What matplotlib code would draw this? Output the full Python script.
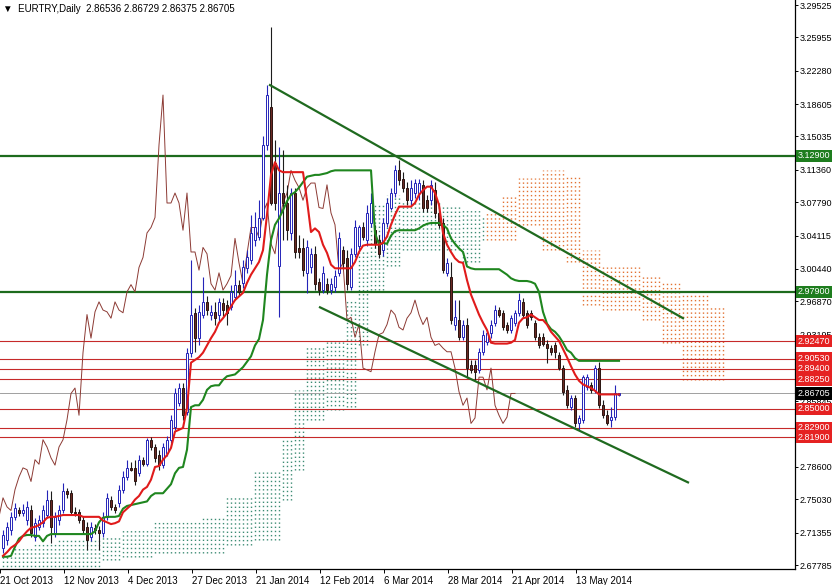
import numpy as np
import matplotlib.pyplot as plt
from matplotlib.transforms import blended_transform_factory

plt.rcParams['font.family'] = ['Liberation Sans', 'DejaVu Sans']
plt.rcParams['font.size'] = 7

# --- daily EURTRY bars (bar 0 = 21 Oct 2013) ---
opens = [
    2.697, 2.705, 2.716, 2.731, 2.738, 2.735, 2.727, 2.738, 2.709, 2.720,
    2.724, 2.733, 2.750, 2.713, 2.727, 2.738, 2.759, 2.757, 2.736, 2.736,
    2.727, 2.720, 2.709, 2.719, 2.716, 2.713, 2.731, 2.750, 2.742, 2.746,
    2.761, 2.775, 2.785, 2.785, 2.779, 2.794, 2.789, 2.816, 2.808, 2.799,
    2.788, 2.801, 2.816, 2.830, 2.857, 2.873, 2.847, 2.912, 2.956, 2.928,
    2.954, 2.968, 2.954, 2.957, 2.954, 2.967, 2.965, 2.962, 2.973, 2.987,
    2.989, 3.005, 3.014, 3.036, 3.039, 3.061, 3.141, 3.183, 3.121, 3.008,
    3.088, 3.077, 3.044, 3.088, 3.027, 3.027, 3.000, 3.006, 3.021, 2.990,
    2.981, 2.988, 2.981, 2.984, 3.000, 3.025, 3.016, 2.984, 3.021, 3.030,
    3.050, 3.036, 3.055, 3.047, 3.036, 3.025, 3.055, 3.072, 3.088, 3.113,
    3.104, 3.094, 3.080, 3.088, 3.088, 3.097, 3.080, 3.080, 3.091, 3.066,
    3.055, 3.000, 2.995, 2.943, 2.948, 2.929, 2.943, 2.898, 2.898, 2.893,
    2.913, 2.924, 2.934, 2.945, 2.959, 2.956, 2.943, 2.937, 2.945, 2.956,
    2.968, 2.956, 2.956, 2.945, 2.929, 2.929, 2.922, 2.917, 2.920, 2.909,
    2.895, 2.871, 2.852, 2.862, 2.834, 2.838, 2.874, 2.876, 2.871, 2.895,
    2.854, 2.843, 2.838, 2.841, 2.86536]
highs = [
    2.716, 2.725, 2.736, 2.746, 2.742, 2.745, 2.748, 2.744, 2.730, 2.733,
    2.744, 2.761, 2.759, 2.736, 2.744, 2.768, 2.763, 2.761, 2.742, 2.740,
    2.732, 2.725, 2.725, 2.723, 2.721, 2.736, 2.757, 2.754, 2.745, 2.766,
    2.782, 2.794, 2.792, 2.794, 2.799, 2.797, 2.818, 2.819, 2.811, 2.805,
    2.812, 2.820, 2.843, 2.873, 2.879, 2.879, 2.917, 3.014, 2.961, 2.965,
    2.995, 2.974, 2.965, 2.968, 2.972, 2.972, 2.970, 2.987, 3.003, 2.992,
    3.014, 3.025, 3.064, 3.067, 3.080, 3.151, 3.207, 3.271, 3.146, 3.139,
    3.135, 3.097, 3.093, 3.093, 3.042, 3.038, 3.036, 3.027, 3.030, 2.994,
    3.008, 2.994, 2.994, 3.003, 3.045, 3.030, 3.025, 3.027, 3.058, 3.053,
    3.056, 3.075, 3.088, 3.053, 3.042, 3.060, 3.082, 3.093, 3.119, 3.124,
    3.111, 3.100, 3.102, 3.104, 3.104, 3.102, 3.086, 3.102, 3.100, 3.071,
    3.060, 3.016, 3.012, 2.970, 2.970, 2.948, 2.950, 2.904, 2.904, 2.917,
    2.937, 2.937, 2.948, 2.965, 2.962, 2.959, 2.946, 2.954, 2.959, 2.978,
    2.972, 2.959, 2.959, 2.948, 2.934, 2.934, 2.926, 2.920, 2.924, 2.913,
    2.898, 2.876, 2.865, 2.865, 2.843, 2.887, 2.889, 2.880, 2.898, 2.902,
    2.860, 2.849, 2.852, 2.876, 2.86729]
lows = [
    2.691, 2.700, 2.711, 2.727, 2.732, 2.732, 2.722, 2.709, 2.704, 2.716,
    2.720, 2.730, 2.702, 2.709, 2.722, 2.735, 2.752, 2.733, 2.732, 2.724,
    2.712, 2.694, 2.704, 2.712, 2.694, 2.709, 2.727, 2.738, 2.735, 2.742,
    2.757, 2.772, 2.781, 2.766, 2.776, 2.787, 2.787, 2.805, 2.791, 2.783,
    2.785, 2.798, 2.812, 2.827, 2.853, 2.838, 2.843, 2.907, 2.913, 2.920,
    2.950, 2.954, 2.948, 2.943, 2.946, 2.952, 2.943, 2.959, 2.970, 2.975,
    2.983, 3.000, 3.010, 3.030, 3.036, 3.058, 3.135, 3.075, 3.069, 2.951,
    3.036, 3.036, 3.036, 3.016, 3.016, 2.997, 2.978, 3.000, 2.981, 2.976,
    2.978, 2.977, 2.977, 2.979, 2.996, 3.005, 2.981, 2.981, 3.017, 3.025,
    3.036, 3.030, 3.050, 3.027, 3.016, 3.019, 3.050, 3.069, 3.084, 3.097,
    3.089, 3.075, 3.075, 3.082, 3.080, 3.067, 3.067, 3.075, 3.060, 3.049,
    3.000, 2.996, 2.944, 2.937, 2.926, 2.926, 2.884, 2.890, 2.882, 2.890,
    2.909, 2.920, 2.928, 2.941, 2.951, 2.937, 2.934, 2.934, 2.941, 2.952,
    2.950, 2.939, 2.948, 2.926, 2.917, 2.919, 2.901, 2.909, 2.906, 2.893,
    2.865, 2.851, 2.849, 2.830, 2.827, 2.834, 2.871, 2.867, 2.867, 2.851,
    2.840, 2.832, 2.830, 2.838, 2.86375]
closes = [
    2.711, 2.720, 2.731, 2.741, 2.735, 2.738, 2.742, 2.713, 2.724, 2.727,
    2.738, 2.750, 2.720, 2.731, 2.738, 2.759, 2.756, 2.736, 2.735, 2.727,
    2.716, 2.705, 2.720, 2.716, 2.713, 2.731, 2.752, 2.742, 2.738, 2.761,
    2.775, 2.785, 2.783, 2.770, 2.794, 2.789, 2.816, 2.808, 2.796, 2.788,
    2.808, 2.816, 2.838, 2.867, 2.873, 2.843, 2.912, 2.954, 2.928, 2.957,
    2.968, 2.959, 2.957, 2.950, 2.968, 2.959, 2.956, 2.979, 2.987, 2.979,
    3.006, 3.017, 3.044, 3.050, 3.061, 3.141, 3.196, 3.077, 3.077, 3.088,
    3.077, 3.047, 3.088, 3.023, 3.023, 3.003, 3.028, 3.021, 2.988, 2.981,
    3.000, 2.981, 2.988, 2.997, 3.038, 3.011, 2.988, 3.021, 3.050, 3.050,
    3.039, 3.066, 3.077, 3.032, 3.021, 3.055, 3.077, 3.088, 3.113, 3.102,
    3.094, 3.080, 3.094, 3.099, 3.099, 3.072, 3.071, 3.097, 3.066, 3.053,
    3.003, 3.011, 2.948, 2.951, 2.929, 2.943, 2.895, 2.893, 2.891, 2.913,
    2.932, 2.934, 2.943, 2.959, 2.954, 2.940, 2.937, 2.950, 2.956, 2.970,
    2.954, 2.943, 2.951, 2.929, 2.920, 2.922, 2.917, 2.913, 2.913, 2.895,
    2.869, 2.854, 2.862, 2.834, 2.840, 2.885, 2.885, 2.871, 2.895, 2.854,
    2.843, 2.834, 2.841, 2.867, 2.86705]

# --- Ichimoku lines ---
tenkan = [
    2.688, 2.692, 2.697, 2.700, 2.704, 2.710, 2.715, 2.719, 2.720, 2.722,
    2.725, 2.730, 2.731, 2.731, 2.732, 2.733, 2.733, 2.733, 2.733, 2.733,
    2.731, 2.731, 2.731, 2.731, 2.731, 2.727, 2.725, 2.723, 2.724, 2.726,
    2.736, 2.740, 2.744, 2.750, 2.754, 2.761, 2.764, 2.772, 2.786, 2.787,
    2.794, 2.799, 2.807, 2.825, 2.827, 2.829, 2.851, 2.901, 2.904, 2.907,
    2.912, 2.920, 2.928, 2.935, 2.945, 2.950, 2.956, 2.963, 2.970, 2.974,
    2.978, 2.989, 2.998, 3.005, 3.012, 3.025, 3.064, 3.108, 3.122, 3.113,
    3.111, 3.111, 3.111, 3.111, 3.111, 3.111, 3.080, 3.045, 3.049, 3.045,
    3.031, 3.022, 3.009, 3.005, 3.005, 3.005, 3.005, 3.005, 3.012, 3.023,
    3.030, 3.031, 3.031, 3.031, 3.031, 3.033, 3.040, 3.053, 3.064, 3.073,
    3.073, 3.073, 3.073, 3.077, 3.086, 3.091, 3.095, 3.095, 3.088, 3.075,
    3.044, 3.031, 3.023, 3.016, 3.012, 3.011, 2.992, 2.976, 2.965, 2.954,
    2.945, 2.937, 2.923, 2.922, 2.922, 2.922, 2.922, 2.923, 2.926, 2.945,
    2.950, 2.951, 2.954, 2.951, 2.948, 2.948, 2.943, 2.935, 2.930, 2.925,
    2.916, 2.907, 2.897, 2.888, 2.881, 2.877, 2.875, 2.873, 2.870, 2.866,
    2.866, 2.866, 2.866, 2.866, 2.866]
kijun = [
    2.687, 2.687, 2.688, 2.698, 2.707, 2.710, 2.711, 2.711, 2.710, 2.710,
    2.704, 2.710, 2.712, 2.712, 2.712, 2.712, 2.712, 2.712, 2.712, 2.712,
    2.712, 2.712, 2.712, 2.715, 2.725, 2.730, 2.731, 2.731, 2.731, 2.732,
    2.740, 2.743, 2.744, 2.745, 2.746, 2.747, 2.748, 2.754, 2.757, 2.757,
    2.757, 2.762, 2.767, 2.779, 2.785, 2.786, 2.805, 2.852, 2.854, 2.854,
    2.860, 2.871, 2.875, 2.876, 2.876, 2.882, 2.886, 2.887, 2.888, 2.892,
    2.896, 2.902, 2.908, 2.920, 2.927, 2.948, 2.998, 3.036, 3.053, 3.060,
    3.069, 3.079, 3.086, 3.089, 3.094, 3.100, 3.106, 3.107, 3.108, 3.108,
    3.109, 3.110, 3.112, 3.113, 3.113, 3.113, 3.113, 3.113, 3.113, 3.113,
    3.113, 3.113, 3.113, 3.044, 3.031, 3.033, 3.032, 3.041, 3.046, 3.047,
    3.047, 3.047, 3.047, 3.047, 3.049, 3.052, 3.054, 3.055, 3.055, 3.055,
    3.053, 3.049, 3.038, 3.032, 3.027, 3.023, 3.007, 3.005, 3.004, 3.004,
    3.004, 3.004, 3.004, 3.004, 3.004, 3.001, 2.998, 2.994, 2.992, 2.991,
    2.991, 2.991, 2.990, 2.988, 2.979, 2.957, 2.944, 2.938, 2.935, 2.930,
    2.923, 2.915, 2.912, 2.906, 2.903, 2.903, 2.903, 2.903, 2.903, 2.903,
    2.903, 2.903, 2.903, 2.903, 2.903]

# Senkou spans as displayed (already shifted 26 bars ahead), bars 0..180
span_a = ([2.689] * 3 + [2.697] * 5 + [2.702] * 6 + [2.705] * 11 + [2.709] * 5
          + [2.716] * 8 + [2.727] * 12 + [2.731] * 6 + [2.753] * 7 + [2.780] * 7
          + [2.816] * 3 + [2.871] * 3 + [2.920] * 5 + [2.926] * 5 + [2.970] * 3
          + [3.025] * 3 + [3.075] * 4 + [3.086] * 4 + [3.080] * 10 + [3.075] * 5
          + [3.069] * 5 + [3.064] * 1
          + [3.036] * 4 + [3.036] * 4 + [3.053] * 6 + [3.025] * 6 + [3.012] * 4
          + [2.965] * 5 + [2.959] * 10 + [2.948] * 5 + [2.923] * 5 + [2.882] * 7
          + [2.882] * 4)
span_b = ([2.667] * 3 + [2.667] * 5 + [2.667] * 6 + [2.667] * 11 + [2.683] * 5
          + [2.687] * 8 + [2.691] * 12 + [2.691] * 6 + [2.700] * 7 + [2.705] * 7
          + [2.750] * 3 + [2.783] * 3 + [2.838] * 5 + [2.849] * 5 + [2.852] * 3
          + [2.920] * 3 + [2.981] * 4 + [3.008] * 4 + [3.025] * 10 + [3.025] * 5
          + [3.012] * 5 + [3.036] * 1
          + [3.066] * 4 + [3.086] * 4 + [3.105] * 6 + [3.113] * 6 + [3.108] * 4
          + [3.025] * 5 + [3.006] * 10 + [2.997] * 5 + [2.989] * 5 + [2.981] * 7
          + [2.965] * 4)

green_levels = [3.12900, 2.97900]
red_levels = [2.92470, 2.90530, 2.89400, 2.88250, 2.85000, 2.82900, 2.81900]
last_price = 2.86705

# trend lines: (bar, price) end points
upper_trend = [(66.75, 3.207), (170.0, 2.950)]
lower_trend = [(79.25, 2.962), (171.25, 2.769)]

ytick_values = [3.29525, 3.25955, 3.22280, 3.18605, 3.15035, 3.11360, 3.07790,
                3.04115, 3.00440, 2.96870, 2.93195, 2.85845,
                2.78600, 2.75030, 2.71355, 2.67785]
date_labels = ['21 Oct 2013', '12 Nov 2013', '4 Dec 2013', '27 Dec 2013',
               '21 Jan 2014', '12 Feb 2014', '6 Mar 2014', '28 Mar 2014',
               '21 Apr 2014', '13 May 2014']

o = np.array(opens); h = np.array(highs); l = np.array(lows); c = np.array(closes)
bars = np.arange(len(c))
cloud_x = np.arange(len(span_a))
sa = np.array(span_a); sb = np.array(span_b)

fig = plt.figure(figsize=(8.34, 5.85), dpi=100)
ax = fig.add_axes([0, 16 / 585, 795 / 834, 569 / 585])

# cloud, drawn as dotted columns
bull = sa >= sb
ax.vlines(cloud_x[bull], sb[bull], sa[bull], colors='#3d8c74', linewidth=1.0,
          linestyles=(0, (1, 2)), zorder=1)
ax.vlines(cloud_x[~bull], sa[~bull], sb[~bull], colors='#e27232', linewidth=1.0,
          linestyles=(0, (1, 2)), zorder=1)

# horizontal levels
for lv in green_levels:
    ax.axhline(lv, color='#1d6b1d', lw=1.6, zorder=2)
for lv in red_levels:
    ax.axhline(lv, color='#c62a2a', lw=0.8, zorder=2)
ax.axhline(last_price, color='#a0a0a0', lw=0.7, zorder=2)

# chikou span: closes shifted back 26 bars
ax.plot(bars - 26, c, color='#8c3a34', lw=0.7, zorder=3)

# candles
up = c >= o
ax.vlines(bars[up], l[up], h[up], color='#2424b8', lw=0.8, zorder=4)
ax.vlines(bars[~up], l[~up], h[~up], color='#1c1c1c', lw=0.8, zorder=4)
body_lo = np.minimum(o, c)
body_h = np.maximum(np.abs(c - o), 0.0012)
ax.bar(bars[up], body_h[up], bottom=body_lo[up], width=0.62, color='white',
       edgecolor='#2424b8', linewidth=0.7, zorder=5)
ax.bar(bars[~up], body_h[~up], bottom=body_lo[~up], width=0.62, color='#6b2a24',
       edgecolor='#2a1410', linewidth=0.7, zorder=5)

# tenkan / kijun
ax.plot(bars, kijun, color='#1f861f', lw=1.5, zorder=6)
ax.plot(bars, tenkan, color='#e01b1b', lw=1.5, zorder=7)

# trend channel
for pts in (upper_trend, lower_trend):
    ax.plot([pts[0][0], pts[1][0]], [pts[0][1], pts[1][1]], color='#1f6a1f',
            lw=1.6, zorder=8)

ax.set_xlim(-0.75, 198)
ax.set_ylim(2.6735, 3.3008)

for s in ('top', 'left'):
    ax.spines[s].set_visible(False)
ax.spines['right'].set_linewidth(0.9)
ax.spines['bottom'].set_linewidth(0.9)

ax.yaxis.tick_right()
ax.set_yticks(ytick_values)
ax.set_yticklabels([f'{v:.5f}' for v in ytick_values])
ax.tick_params(axis='y', length=2, width=0.7, pad=1, labelsize=6.5)

xt = np.arange(len(date_labels)) * 16 - 0.75
ax.set_xticks(xt)
ax.set_xticklabels(date_labels, ha='left')
ax.tick_params(axis='x', length=3, width=0.7, pad=2, labelsize=7)

# price boxes on the right scale
tr = blended_transform_factory(ax.transAxes, ax.transData)
boxes = [(v, '#1e7d1e') for v in green_levels] + [(v, '#e52222') for v in red_levels]
boxes.append((last_price, '#000000'))
for v, col in boxes:
    ax.text(1.003, v, f'{v:.5f}', transform=tr, ha='left', va='center',
            color='white', fontsize=6.5, clip_on=False, zorder=20,
            bbox=dict(boxstyle='square,pad=0.2', facecolor=col, edgecolor='none'))

ax.text(0.004, 0.993, '\u25bc  EURTRY,Daily  2.86536 2.86729 2.86375 2.86705',
        transform=ax.transAxes, ha='left', va='top', fontsize=7, color='black')

fig.savefig('out.png', dpi=100)
